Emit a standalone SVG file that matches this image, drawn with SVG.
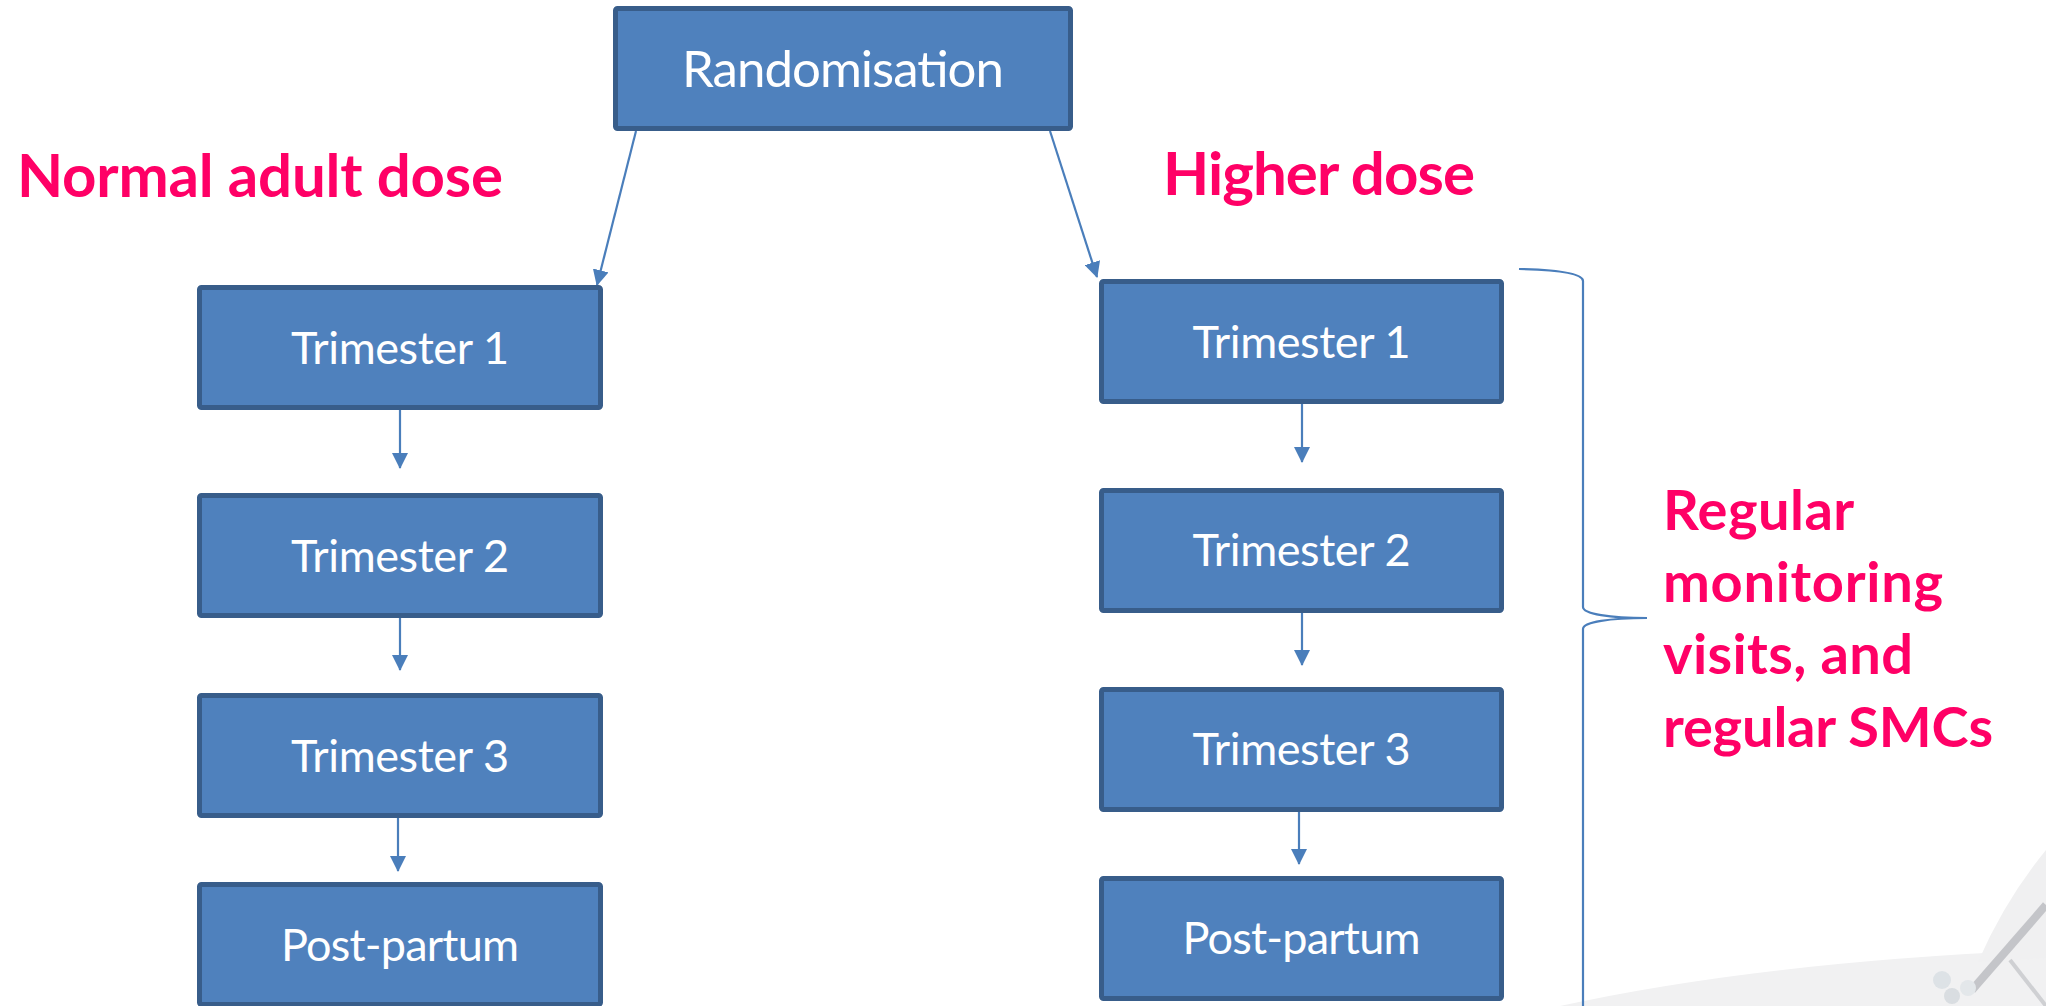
<svg xmlns="http://www.w3.org/2000/svg" width="2046" height="1006" viewBox="0 0 2046 1006">
<style>
.box{fill:#4F81BD;stroke:#385D8A;stroke-width:5}
.bt{fill:#FFFFFF;font-family:Lato,"Liberation Sans",sans-serif;text-anchor:middle}
.lab{fill:#FF0066;font-family:Lato,"Liberation Sans",sans-serif;font-weight:bold}
.con{stroke:#4A7EBB;stroke-width:2.2;fill:none}
</style>
<defs>
<marker id="ah" markerUnits="userSpaceOnUse" markerWidth="16" markerHeight="16" viewBox="0 0 16 16" refX="15" refY="8" orient="auto">
<path d="M0,0 L16,8 L0,16 Z" fill="#4A7EBB"/>
</marker>
</defs>
<rect width="2046" height="1006" fill="#FFFFFF"/>
<g id="watermark">
<path d="M1560,1006 Q1760,962 2046,950 L2046,1006 Z" fill="#f1f1f2"/>
<path d="M2046,850 Q2005,900 1978,962 L2046,958 Z" fill="#f0f0f1"/>
<path d="M2046,905 L1972,990" stroke="#c4c5c9" stroke-width="8"/>
<path d="M2010,960 L2046,1006" stroke="#cfd0d3" stroke-width="4"/>
<circle cx="1942" cy="980" r="9" fill="#dde2e6"/>
<circle cx="1952" cy="996" r="8" fill="#d9dde1"/>
<circle cx="1968" cy="988" r="8" fill="#e3e7ea"/>
</g>
<g id="connectors">
<line class="con" x1="636" y1="131" x2="597" y2="285" marker-end="url(#ah)"/>
<line class="con" x1="1050" y1="131" x2="1097" y2="277" marker-end="url(#ah)"/>
<line class="con" x1="400" y1="410" x2="400" y2="468" marker-end="url(#ah)"/>
<line class="con" x1="400" y1="618" x2="400" y2="670" marker-end="url(#ah)"/>
<line class="con" x1="398" y1="818" x2="398" y2="871" marker-end="url(#ah)"/>
<line class="con" x1="1302" y1="404" x2="1302" y2="462" marker-end="url(#ah)"/>
<line class="con" x1="1302" y1="612" x2="1302" y2="665" marker-end="url(#ah)"/>
<line class="con" x1="1299" y1="812" x2="1299" y2="864" marker-end="url(#ah)"/>
<path class="con" d="M1519,269 C1560,270 1583,274 1583,281 L1583,607 C1583,614 1610,618 1647,618 C1610,618 1583,622 1583,629 L1583,1010" stroke-width="2"/>
</g>
<g id="n-rand">
<rect class="box" x="615.5" y="8.5" width="455" height="120" rx="2"/>
<text class="bt" x="843" y="87" font-size="51" textLength="322">Randomisation</text>
</g>
<g id="n-l1">
<rect class="box" x="199.5" y="287.5" width="401" height="120" rx="2"/>
<text class="bt" x="400" y="364" font-size="45" textLength="218">Trimester 1</text>
</g>
<g id="n-l2">
<rect class="box" x="199.5" y="495.5" width="401" height="120" rx="2"/>
<text class="bt" x="400" y="572" font-size="45" textLength="218">Trimester 2</text>
</g>
<g id="n-l3">
<rect class="box" x="199.5" y="695.5" width="401" height="120" rx="2"/>
<text class="bt" x="400" y="772" font-size="45" textLength="218">Trimester 3</text>
</g>
<g id="n-l4">
<rect class="box" x="199.5" y="884.5" width="401" height="120" rx="2"/>
<text class="bt" x="400" y="961" font-size="45" textLength="238">Post-partum</text>
</g>
<g id="n-r1">
<rect class="box" x="1101.5" y="281.5" width="400" height="120" rx="2"/>
<text class="bt" x="1301.5" y="358" font-size="45" textLength="218">Trimester 1</text>
</g>
<g id="n-r2">
<rect class="box" x="1101.5" y="490.5" width="400" height="120" rx="2"/>
<text class="bt" x="1301.5" y="566" font-size="45" textLength="218">Trimester 2</text>
</g>
<g id="n-r3">
<rect class="box" x="1101.5" y="689.5" width="400" height="120" rx="2"/>
<text class="bt" x="1301.5" y="765" font-size="45" textLength="218">Trimester 3</text>
</g>
<g id="n-r4">
<rect class="box" x="1101.5" y="878.5" width="400" height="120" rx="2"/>
<text class="bt" x="1301.5" y="954" font-size="45" textLength="238">Post-partum</text>
</g>
<g id="labels">
<text class="lab" x="17" y="197" font-size="60" textLength="486">Normal adult dose</text>
<text class="lab" x="1163" y="195" font-size="60" textLength="312">Higher dose</text>
<text class="lab" font-size="56">
<tspan x="1663" y="530" textLength="190">Regular</tspan>
<tspan x="1663" y="602" textLength="280">monitoring</tspan>
<tspan x="1663" y="674" textLength="250">visits, and</tspan>
<tspan x="1663" y="747" textLength="330">regular SMCs</tspan>
</text>
</g>
</svg>
